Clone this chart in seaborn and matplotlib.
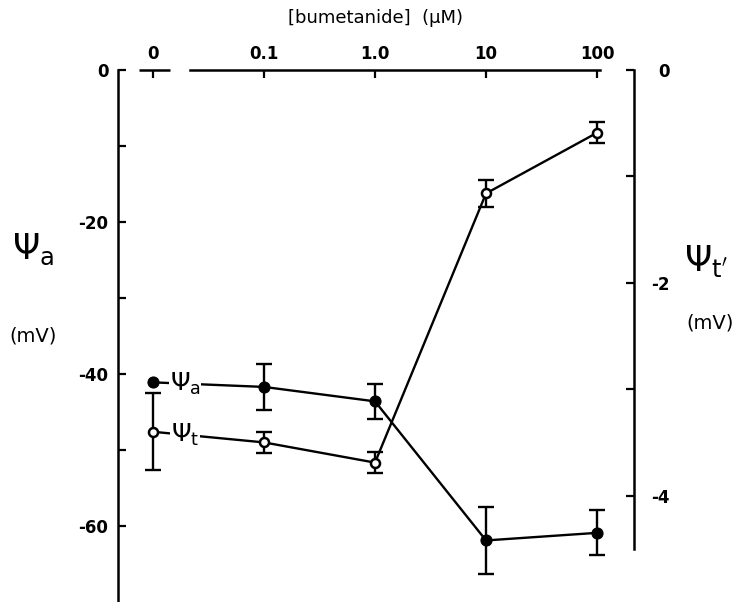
import numpy as np
import pandas as pd
import matplotlib
matplotlib.use("Agg")
import matplotlib.pyplot as plt
import seaborn as sns

# ---- data ----
conc_labels = ["0", "0.1", "1.0", "10", "100"]
conc_pos = [0, 1, 2, 3, 4]
psi_a = [-41.1, -41.7, -43.6, -61.9, -60.9]          # mV, left axis
psi_a_err = [np.nan, 3.0, 2.35, 4.35, 2.95]
psi_t = [-3.40, -3.50, -3.69, -1.16, -0.59]          # mV, right axis
psi_t_err = [0.36, 0.10, 0.10, 0.13, 0.10]

left_ticks = [0, -10, -20, -30, -40, -50, -60]
left_ticklabels = ["0", "", "-20", "", "-40", "", "-60"]
right_ticks = [0, -1, -2, -3, -4]
right_ticklabels = ["0", "", "-2", "", "-4"]

sns.set_theme(style="white")
plt.rcParams['font.family'] = ['DejaVu Sans']
plt.rcParams['mathtext.fontset'] = 'dejavusans'
plt.rcParams['text.color'] = 'black'

fig = plt.figure(figsize=(7.34, 6.02), dpi=100)
ax = fig.add_axes([118 / 734, 0.0, 516 / 734, 532 / 602])
ax2 = ax.twinx()
ax2.set_position(ax.get_position())

df_a = pd.DataFrame({"pos": conc_pos, "val": psi_a, "err": psi_a_err})
df_t = pd.DataFrame({"pos": conc_pos, "val": psi_t, "err": psi_t_err})

lw = 1.7
# psi_a: filled circles
sns.lineplot(data=df_a, x="pos", y="val", ax=ax, color="black", lw=lw,
             marker="o", markersize=8, markerfacecolor="black",
             markeredgecolor="black", zorder=3)
m = df_a["err"].notna()
ax.errorbar(df_a.loc[m, "pos"], df_a.loc[m, "val"], yerr=df_a.loc[m, "err"],
            fmt="none", ecolor="black", elinewidth=lw, capsize=6, capthick=lw, zorder=2)

# psi_t: open circles
sns.lineplot(data=df_t, x="pos", y="val", ax=ax2, color="black", lw=lw,
             marker="o", markersize=6.5, markerfacecolor="white",
             markeredgecolor="black", markeredgewidth=1.8, zorder=3)
ax2.errorbar(df_t["pos"], df_t["val"], yerr=df_t["err"],
             fmt="none", ecolor="black", elinewidth=lw, capsize=6, capthick=lw, zorder=2)

# inline series labels (white box hides the connecting line)
xl = 0.29
ya = psi_a[0] + xl * (psi_a[1] - psi_a[0])
yt = psi_t[0] + xl * (psi_t[1] - psi_t[0])
ax.text(xl, ya, r"$\Psi_{\mathrm{a}}$", fontsize=18, ha="center", va="center",
        color="black", bbox=dict(facecolor="white", edgecolor="none", pad=0.5), zorder=4)
ax2.text(xl, yt, r"$\Psi_{\mathrm{t}}$", fontsize=18, ha="center", va="center",
         color="black", bbox=dict(facecolor="white", edgecolor="none", pad=0.5), zorder=4)

# axes limits
ax.set_xlim(-0.315, 4.333)
ax.set_ylim(-70, 0)
ax2.set_ylim(-5.0, 0)

# x axis on top
ax.xaxis.tick_top()
ax.xaxis.set_label_position('top')
ax.set_xticks(conc_pos)
ax.set_xticklabels(conc_labels, fontweight="bold")
ax.tick_params(axis='x', direction='in', length=6, width=1.6, pad=5,
               labelsize=12, colors="black", top=True, bottom=False)
ax.set_xlabel("[bumetanide]  (\u03bcM)", fontsize=13, labelpad=16, color="black")

# left y axis
ax.set_yticks(left_ticks)
ax.set_yticklabels(left_ticklabels, fontweight="bold")
ax.tick_params(axis='y', direction='in', length=6, width=1.6, pad=7,
               labelsize=12, colors="black", left=True)
ax.set_ylabel(r"$\Psi_{\mathrm{a}}$", fontsize=25, rotation=0, color="black")
ax.yaxis.set_label_coords(-0.165, 0.63)
ax.text(-0.165, 0.50, "(mV)", transform=ax.transAxes, fontsize=14,
        ha="center", va="center", color="black")

# right y axis
ax2.set_yticks(right_ticks)
ax2.set_yticklabels(right_ticklabels, fontweight="bold")
ax2.tick_params(axis='y', direction='in', length=6, width=1.6, pad=26,
                labelsize=12, colors="black", right=True)
for t in ax2.get_yticklabels():
    t.set_horizontalalignment("right")
ax2.set_ylabel(r"$\Psi_{\mathrm{t'}}$", fontsize=25, rotation=0, color="black")
ax2.yaxis.set_label_coords(1.14, 0.675)
ax2.text(1.147, 0.525, "(mV)", transform=ax2.transAxes, fontsize=14,
         ha="center", va="center", color="black")

# spines
for a in (ax, ax2):
    for s in a.spines.values():
        s.set_color("black")
        s.set_linewidth(1.8)
ax.spines['right'].set_visible(False)
ax.spines['bottom'].set_visible(False)
ax.spines['top'].set_bounds(0.333, 4.03)
for side in ('left', 'top', 'bottom'):
    ax2.spines[side].set_visible(False)
ax2.spines['right'].set_bounds(-4.5, 0)
# short broken-axis piece around the zero concentration
ax.plot([-0.126, 0.153], [0, 0], color="black", lw=1.8, clip_on=False,
        solid_capstyle="butt")

ax.grid(False)
ax2.grid(False)
fig.savefig("out.png", dpi=100)
